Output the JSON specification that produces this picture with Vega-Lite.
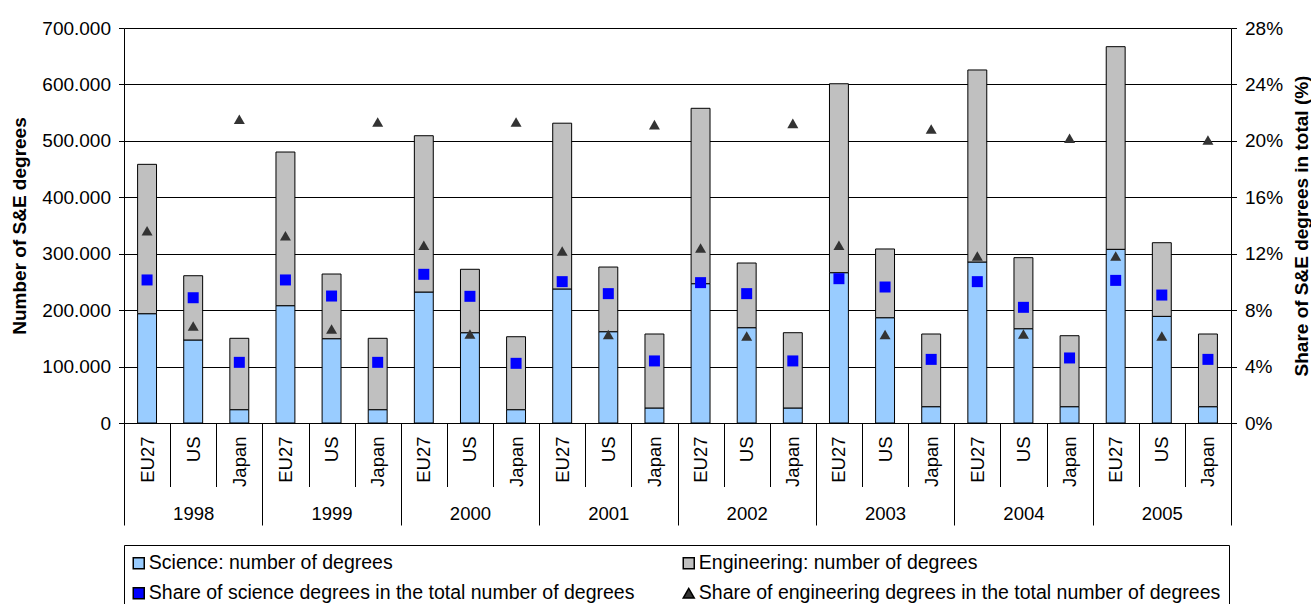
{
  "$schema": "https://vega.github.io/schema/vega-lite/v6.json",
  "width": 1107,
  "height": 395,
  "autosize": {"type": "none"},
  "padding": {"left": 124, "top": 28, "right": 80, "bottom": 181},
  "background": "white",
  "config": {
    "font": "Liberation Sans",
    "view": {"stroke": null},
    "locale": {
      "number": {"decimal": ",", "thousands": ".", "grouping": [3], "currency": ["€", ""]}
    },
    "axis": {"labelFont": "Liberation Sans", "titleFont": "Liberation Sans", "labelColor": "black", "titleColor": "black"},
    "legend": {"labelFont": "Liberation Sans", "labelColor": "black"}
  },
  "data": {
    "values": [
      {"year": "1998", "country": "EU27", "k": "1998|EU27", "sci": 193700, "eng": 264700, "shs": 0.1014, "she": 0.1363},
      {"year": "1998", "country": "US", "k": "1998|US", "sci": 147100, "eng": 113900, "shs": 0.0888, "she": 0.0688},
      {"year": "1998", "country": "Japan", "k": "1998|Japan", "sci": 23600, "eng": 126500, "shs": 0.0430, "she": 0.2153},
      {"year": "1999", "country": "EU27", "k": "1999|EU27", "sci": 207900, "eng": 272300, "shs": 0.1014, "she": 0.1328},
      {"year": "1999", "country": "US", "k": "1999|US", "sci": 149400, "eng": 114600, "shs": 0.0900, "she": 0.0666},
      {"year": "1999", "country": "Japan", "k": "1999|Japan", "sci": 23600, "eng": 126500, "shs": 0.0430, "she": 0.2134},
      {"year": "2000", "country": "EU27", "k": "2000|EU27", "sci": 232100, "eng": 277000, "shs": 0.1054, "she": 0.1260},
      {"year": "2000", "country": "US", "k": "2000|US", "sci": 160000, "eng": 112400, "shs": 0.0898, "she": 0.0631},
      {"year": "2000", "country": "Japan", "k": "2000|Japan", "sci": 23600, "eng": 129300, "shs": 0.0423, "she": 0.2134},
      {"year": "2001", "country": "EU27", "k": "2001|EU27", "sci": 237500, "eng": 293800, "shs": 0.1002, "she": 0.1220},
      {"year": "2001", "country": "US", "k": "2001|US", "sci": 161800, "eng": 114600, "shs": 0.0917, "she": 0.0628},
      {"year": "2001", "country": "Japan", "k": "2001|Japan", "sci": 26600, "eng": 131100, "shs": 0.0440, "she": 0.2115},
      {"year": "2002", "country": "EU27", "k": "2002|EU27", "sci": 246900, "eng": 310800, "shs": 0.0995, "she": 0.1240},
      {"year": "2002", "country": "US", "k": "2002|US", "sci": 168900, "eng": 114600, "shs": 0.0917, "she": 0.0617},
      {"year": "2002", "country": "Japan", "k": "2002|Japan", "sci": 26600, "eng": 133400, "shs": 0.0440, "she": 0.2124},
      {"year": "2003", "country": "EU27", "k": "2003|EU27", "sci": 266400, "eng": 334800, "shs": 0.1023, "she": 0.1260},
      {"year": "2003", "country": "US", "k": "2003|US", "sci": 186600, "eng": 121800, "shs": 0.0964, "she": 0.0628},
      {"year": "2003", "country": "Japan", "k": "2003|Japan", "sci": 28900, "eng": 128800, "shs": 0.0451, "she": 0.2084},
      {"year": "2004", "country": "EU27", "k": "2004|EU27", "sci": 285300, "eng": 340300, "shs": 0.1002, "she": 0.1184},
      {"year": "2004", "country": "US", "k": "2004|US", "sci": 167100, "eng": 125900, "shs": 0.0820, "she": 0.0631},
      {"year": "2004", "country": "Japan", "k": "2004|Japan", "sci": 28900, "eng": 125800, "shs": 0.0461, "she": 0.2018},
      {"year": "2005", "country": "EU27", "k": "2005|EU27", "sci": 307800, "eng": 359100, "shs": 0.1011, "she": 0.1184},
      {"year": "2005", "country": "US", "k": "2005|US", "sci": 189000, "eng": 130500, "shs": 0.0907, "she": 0.0617},
      {"year": "2005", "country": "Japan", "k": "2005|Japan", "sci": 28900, "eng": 128800, "shs": 0.0451, "she": 0.2006}
    ]
  },
  "layer": [
    {
      "transform": [{"fold": ["sci", "eng"], "as": ["series", "n"]}],
      "mark": {"type": "bar", "stroke": "black", "strokeWidth": 1, "opacity": 1},
      "encoding": {
        "x": {
          "field": "year", "type": "nominal",
          "scale": {"paddingInner": 0, "paddingOuter": 0},
          "axis": {
            "orient": "bottom", "title": null, "labelAngle": 0, "labelFontSize": 18.5,
            "labelBaseline": "top", "tickBand": "extent", "tickSize": 102, "tickColor": "black",
            "labelPadding": -21, "domain": false, "grid": false
          }
        },
        "xOffset": {
          "field": "country", "type": "nominal", "sort": ["EU27", "US", "Japan"],
          "scale": {"paddingInner": 0.59, "paddingOuter": 0.295}
        },
        "y": {
          "field": "n", "type": "quantitative", "stack": "zero",
          "scale": {"domain": [0, 700000], "nice": false},
          "axis": {
            "orient": "left", "title": "Number of S&E degrees", "titleFontSize": 19, "titleFontWeight": "bold",
            "titlePadding": 12, "values": [0, 100000, 200000, 300000, 400000, 500000, 600000, 700000],
            "format": ",d", "labelFontSize": 19, "labelPadding": 8, "tickSize": 5.5, "tickColor": "black",
            "domainColor": "black", "grid": true, "gridColor": "black", "gridWidth": 1
          }
        },
        "color": {
          "field": "series", "type": "nominal",
          "scale": {"domain": ["sci", "eng", "shs", "she"], "range": ["#99CCFF", "#C0C0C0", "#0000FF", "#333333"]},
          "legend": {
            "orient": "bottom", "direction": "horizontal", "columns": 2, "title": null,
            "labelFontSize": 19.5, "labelLimit": 0, "strokeColor": "black", "fillColor": "white",
            "padding": 8, "columnPadding": 45, "rowPadding": 9.5, "labelOffset": 0.3, "symbolOffset": -3,
            "offset": 19,
            "labelExpr": "datum.value == 'sci' ? 'Science: number of degrees' : datum.value == 'eng' ? 'Engineering: number of degrees' : datum.value == 'shs' ? 'Share of science degrees in the total number of degrees' : 'Share of engineering degrees in the total number of degrees'",
            "encode": {
              "symbols": {
                "update": {
                  "stroke": {"signal": "datum.value == 'sci' || datum.value == 'eng' ? '#000000' : 'transparent'"},
                  "strokeWidth": {"value": 1},
                  "size": {"signal": "datum.value == 'shs' ? 49 : datum.value == 'she' ? 81 : 121"},
                  "opacity": {"value": 1}
                }
              }
            }
          }
        },
        "order": {"field": "series", "sort": "descending"}
      }
    },
    {
      "transform": [{"fold": ["shs", "she"], "as": ["series", "p"]}],
      "mark": {"type": "point", "filled": true, "opacity": 1},
      "encoding": {
        "x": {
          "field": "k", "type": "nominal", "sort": null,
          "scale": {"paddingInner": 0, "paddingOuter": 0},
          "axis": {
            "orient": "bottom", "title": null, "labelExpr": "split(datum.value, '|')[1]",
            "labelAngle": -90, "labelAlign": "right", "labelBaseline": "middle", "labelFontSize": 18.5,
            "labelOverlap": false, "tickBand": "extent", "tickSize": 63.5, "tickColor": "black",
            "labelPadding": -50.5, "domain": true, "domainColor": "black", "grid": false
          }
        },
        "y": {
          "field": "p", "type": "quantitative",
          "scale": {"domain": [0, 0.28], "nice": false},
          "axis": {
            "orient": "right", "title": "Share of S&E degrees in total (%)", "titleFontSize": 19,
            "titleFontWeight": "bold", "titleAngle": 270, "titleBaseline": "top", "titlePadding": 10,
            "values": [0, 0.04, 0.08, 0.12, 0.16, 0.2, 0.24, 0.28], "format": ".0%",
            "labelFontSize": 19, "labelPadding": 8, "tickSize": 5.5, "tickColor": "black",
            "domainColor": "black", "grid": false
          }
        },
        "color": {"field": "series", "type": "nominal"},
        "shape": {
          "field": "series", "type": "nominal",
          "scale": {"domain": ["sci", "eng", "shs", "she"], "range": ["square", "square", "square", "triangle-up"]}
        },
        "size": {
          "field": "series", "type": "nominal",
          "scale": {"domain": ["sci", "eng", "shs", "she"], "range": [121, 121, 56, 90]}
        }
      }
    }
  ],
  "resolve": {"scale": {"x": "independent", "y": "independent"}}
}
